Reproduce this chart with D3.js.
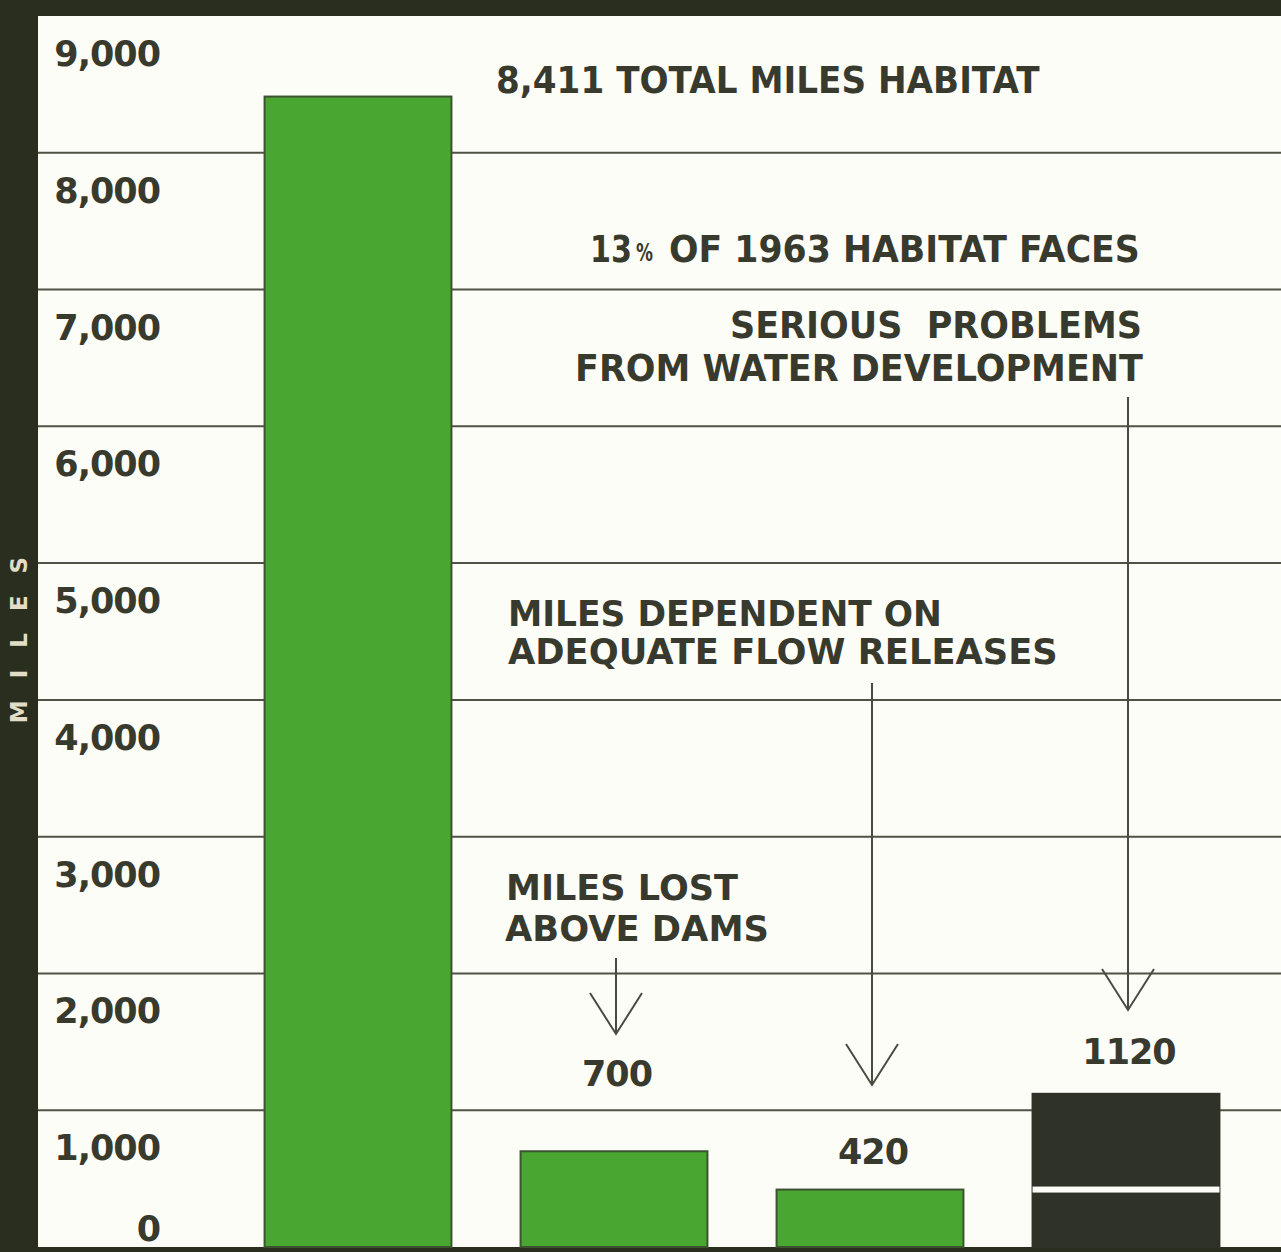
<!DOCTYPE html>
<html>
<head>
<meta charset="utf-8">
<script src="https://cdn.jsdelivr.net/npm/d3@7"></script>
<style>
  body { margin: 0; background: #2a2e1f; }
  text { font-family: "DejaVu Sans", "Liberation Sans", sans-serif; font-weight: bold; }
</style>
</head>
<body>
<script>
'use strict';

// chart values
const categories = ["Total habitat", "Lost above dams", "Dependent on flow releases", "Serious problems"];
const values = [8411, 700, 420, 1120];
const valueLabels = ["", "700", "420", "1120"];
const seriousSplit = 420; // white rule inside the dark bar
const tickValues = [0, 1000, 2000, 3000, 4000, 5000, 6000, 7000, 8000, 9000];
const tickLabels = ["0", "1,000", "2,000", "3,000", "4,000", "5,000", "6,000", "7,000", "8,000", "9,000"];
const axisTitle = "MILES";

// annotation text (layout kept separately below)
const notes = [
  "8,411 TOTAL MILES HABITAT",
  "13",
  "%",
  "OF 1963 HABITAT FACES",
  "SERIOUS  PROBLEMS",
  "FROM WATER DEVELOPMENT",
  "MILES DEPENDENT ON",
  "ADEQUATE FLOW RELEASES",
  "MILES LOST",
  "ABOVE DAMS"
];

(function () {
  const width = 1281, height = 1252;
  const panel = { left: 38, top: 16, bottom: 1247 };
  const ink = "#393a2e";
  const green = "#48a631";
  const dark = "#2f3327";

  const svg = d3.select('body')
    .append('svg')
    .attr('width', width)
    .attr('height', height);

  // dark frame + white card
  svg.append('rect')
    .attr('width', width).attr('height', height)
    .attr('fill', '#2a2e1f');
  svg.append('rect')
    .attr('x', panel.left).attr('y', panel.top)
    .attr('width', width - panel.left).attr('height', panel.bottom - panel.top)
    .attr('fill', '#fdfdf8');

  // scales
  let yScale = d3.scaleLinear()
    .domain([0, 9000])
    .range([panel.bottom, panel.top]);

  let xScale = d3.scaleBand()
    .domain(categories)
    .range([230, 1254])
    .paddingInner(0.27)
    .paddingOuter(0.135);

  // gridlines
  svg.selectAll('.grid')
    .data(tickValues.filter((v) => v > 0 && v < 9000))
    .enter()
    .append('line')
    .attr('x1', panel.left)
    .attr('x2', width)
    .attr('y1', (d) => yScale(d))
    .attr('y2', (d) => yScale(d))
    .attr('stroke', '#4f5244')
    .attr('stroke-width', 2);

  // tick labels sit in the band below their line
  svg.selectAll('.tick-label')
    .data(tickValues)
    .enter()
    .append('text')
    .attr('x', 160)
    .attr('y', (d) => d === 0 ? yScale(d) - 18 : yScale(d) + 38)
    .attr('text-anchor', 'end')
    .attr('dominant-baseline', 'central')
    .style('font-size', '35px')
    .style('letter-spacing', '-1px')
    .attr('fill', ink)
    .text((d, i) => tickLabels[i]);

  // axis title in the dark margin
  svg.append('text')
    .attr('transform', 'translate(19, 640)rotate(-90)')
    .attr('x', 11)
    .attr('text-anchor', 'middle')
    .attr('dominant-baseline', 'central')
    .style('font-size', '23px')
    .style('letter-spacing', '22px')
    .attr('fill', '#e2ddc6')
    .text(axisTitle);

  // bars
  svg.selectAll('.bar')
    .data(values)
    .enter()
    .append('rect')
    .attr('x', (d, i) => xScale(categories[i]))
    .attr('y', (d) => yScale(d))
    .attr('width', xScale.bandwidth())
    .attr('height', (d) => yScale(0) - yScale(d))
    .attr('fill', (d, i) => i === 3 ? dark : green)
    .attr('stroke', (d, i) => i === 3 ? dark : '#3d5230')
    .attr('stroke-width', 2);

  // white rule splitting the dark bar
  svg.append('rect')
    .attr('x', xScale(categories[3]))
    .attr('y', yScale(seriousSplit) - 3)
    .attr('width', xScale.bandwidth())
    .attr('height', 6)
    .attr('fill', '#fdfdf8');

  // value labels above bars
  const labelGap = [0, 77, 38, 42];
  svg.selectAll('.value-label')
    .data(values)
    .enter()
    .filter((d, i) => valueLabels[i] !== "")
    .append('text')
    .attr('x', (d) => xScale(categories[values.indexOf(d)]) + xScale.bandwidth() / 2 + 3)
    .attr('y', (d) => yScale(d) - labelGap[values.indexOf(d)])
    .attr('text-anchor', 'middle')
    .attr('dominant-baseline', 'central')
    .style('font-size', '35px')
    .style('letter-spacing', '-1px')
    .attr('fill', ink)
    .text((d) => valueLabels[values.indexOf(d)]);

  // annotation text blocks: [x, y, width, font size]
  const noteLayout = [
    [496, 80, 544, 37],
    [590, 249, 42, 37],
    [636, 252, 17, 25],
    [669, 249, 471, 37],
    [730, 325, 412, 37],
    [575, 368, 568, 37],
    [508, 613, 434, 36],
    [508, 651, 550, 36],
    [506, 887, 232, 36],
    [505, 928, 264, 36]
  ];

  // squeeze each note horizontally to the measured width
  notes.forEach((t, i) => {
    let el = svg.append('text')
      .attr('dominant-baseline', 'central')
      .style('font-size', noteLayout[i][3] + 'px')
      .style('white-space', 'pre')
      .attr('fill', ink)
      .text(t);
    let natural = el.node().getComputedTextLength();
    let sx = noteLayout[i][2] / natural;
    el.attr('transform', 'translate(' + noteLayout[i][0] + ',' + noteLayout[i][1] + ')scale(' + sx + ',1)');
  });

  // arrows pointing down to bars: [bar index, line top, tip y]
  const arrows = [
    [1, 958, 1034],
    [2, 683, 1085],
    [3, 397, 1010]
  ];

  arrows.forEach((a) => {
    let cx = xScale(categories[a[0]]) + xScale.bandwidth() / 2 + 2;
    svg.append('line')
      .attr('x1', cx).attr('x2', cx)
      .attr('y1', a[1]).attr('y2', a[2])
      .attr('stroke', '#4a4b40')
      .attr('stroke-width', 2);
    svg.append('path')
      .attr('d', d3.line()([[cx - 26, a[2] - 41], [cx, a[2]], [cx + 26, a[2] - 41]]))
      .attr('fill', 'none')
      .attr('stroke', '#4a4b40')
      .attr('stroke-width', 2);
  });

})();
</script>
</body>
</html>
